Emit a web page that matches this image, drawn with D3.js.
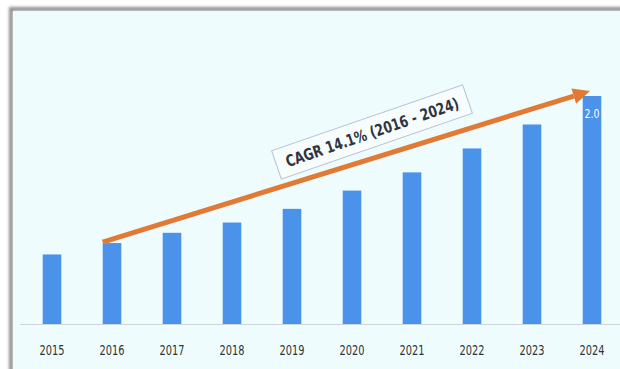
<!DOCTYPE html>
<html>
<head>
<meta charset="utf-8">
<script src="https://cdn.jsdelivr.net/npm/d3@7"></script>
<style>
  html, body { margin: 0; padding: 0; background: #ffffff; }
  svg { display: block; }
  .cond { font-family: "DejaVu Sans", sans-serif; font-stretch: condensed; }
</style>
</head>
<body>
<div id="chart"></div>
<script>
(function(){
    // chart data
    const years = ["2015", "2016", "2017", "2018", "2019", "2020", "2021", "2022", "2023", "2024"];
    const values = [0.61, 0.71, 0.80, 0.89, 1.01, 1.17, 1.33, 1.54, 1.75, 2.0];
    const cagrLabel = "CAGR 14.1% (2016 - 2024)";
    const cagrFrom = "2016";
    const cagrTo = "2024";

    const width = 620;
    const height = 369;

    const svg = d3.select("#chart")
        .append("svg")
        .attr("width", width)
        .attr("height", height);

    const defs = svg.append("defs");
    const shadow = defs.append("filter").attr("id", "shadow")
        .attr("x", "-5%").attr("y", "-5%").attr("width", "110%").attr("height", "110%");
    shadow.append("feGaussianBlur").attr("stdDeviation", 1.6);

    // frame with a soft grey border
    svg.append("rect")
        .attr("x", 11).attr("y", 9)
        .attr("width", width).attr("height", height)
        .attr("fill", "none")
        .attr("stroke", "#8f8f8f")
        .attr("stroke-width", 4)
        .attr("filter", "url(#shadow)");
    svg.append("rect")
        .attr("x", 13).attr("y", 11)
        .attr("width", width).attr("height", height)
        .attr("fill", "#eefcfd");

    // scales
    const x = d3.scaleBand()
        .domain(years)
        .range([22, 622])
        .paddingInner(0.69)
        .paddingOuter(0.345);

    const y = d3.scaleLinear()
        .domain([0, 2])
        .range([324, 96]);

    // baseline
    svg.append("line")
        .attr("x1", 20).attr("x2", width)
        .attr("y1", y(0) + 0.5).attr("y2", y(0) + 0.5)
        .attr("stroke", "#cfd6d8")
        .attr("stroke-width", 1.2);

    // bars
    svg.append("g")
        .selectAll("rect")
        .data(values)
        .join("rect")
        .attr("x", (d, i) => x(years[i]))
        .attr("y", d => y(d))
        .attr("width", x.bandwidth())
        .attr("height", d => y(0) - y(d))
        .attr("fill", "#4b92ea");

    // value label on last bar
    const last = values.length - 1;
    svg.append("text")
        .attr("class", "cond")
        .attr("x", x(years[last]) + x.bandwidth() / 2)
        .attr("y", y(values[last]) + 22)
        .attr("text-anchor", "middle")
        .attr("font-size", 12)
        .attr("textLength", 15)
        .attr("lengthAdjust", "spacingAndGlyphs")
        .attr("fill", "#ffffff")
        .text(values[last].toFixed(1));

    // x axis labels
    const axis = svg.append("g")
        .attr("transform", `translate(0,${y(0)})`)
        .call(d3.axisBottom(x).tickSize(0).tickPadding(21));
    axis.select(".domain").remove();
    axis.selectAll("text")
        .attr("class", "cond")
        .attr("font-size", 14)
        .attr("textLength", 25)
        .attr("lengthAdjust", "spacingAndGlyphs")
        .attr("fill", "#333333");

    // CAGR arrow
    const i0 = years.indexOf(cagrFrom);
    const i1 = years.indexOf(cagrTo);
    const x0 = x(cagrFrom);
    const y0 = y(values[i0]) - 1;
    const x1 = x(cagrTo) + x.bandwidth() / 2 - 2;
    const y1 = y(values[i1]) - 5;
    const ang = Math.atan2(y1 - y0, x1 - x0);
    const headLen = 17, headW = 8;
    const bx = x1 - headLen * Math.cos(ang), by = y1 - headLen * Math.sin(ang);

    svg.append("line")
        .attr("x1", x0).attr("y1", y0)
        .attr("x2", bx).attr("y2", by)
        .attr("stroke", "#e07a35")
        .attr("stroke-width", 5);
    svg.append("path")
        .attr("d", d3.line()([
            [x1, y1],
            [bx + headW * Math.sin(ang), by - headW * Math.cos(ang)],
            [bx - headW * Math.sin(ang), by + headW * Math.cos(ang)]
        ]) + "Z")
        .attr("fill", "#e07a35");

    // CAGR label box
    const cx = 372, cy = 132;
    const g = svg.append("g")
        .attr("transform", `translate(${cx},${cy}) rotate(-19)`);
    g.append("rect")
        .attr("x", -101).attr("y", -15)
        .attr("width", 202).attr("height", 30)
        .attr("fill", "#f7fdfd")
        .attr("stroke", "#b5c0d8")
        .attr("stroke-width", 1);
    g.append("text")
        .attr("class", "cond")
        .attr("x", 0).attr("y", 6)
        .attr("text-anchor", "middle")
        .attr("font-weight", "bold")
        .attr("font-size", 16)
        .attr("textLength", 182)
        .attr("lengthAdjust", "spacingAndGlyphs")
        .attr("fill", "#2f3440")
        .text(cagrLabel);
})();
</script>
</body>
</html>
